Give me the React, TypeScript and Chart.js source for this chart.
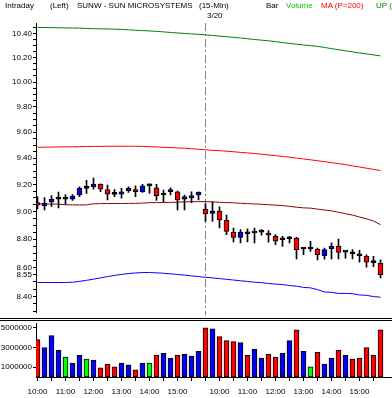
import React, { useEffect, useRef } from 'react';
import { Chart, registerables } from 'chart.js';

Chart.register(...registerables);

// ---- data ----
const opens = [9.066, 9.044, 9.070, 9.092, 9.092, 9.092, 9.122, 9.171, 9.183, 9.202, 9.163, 9.127, 9.129, 9.154, 9.163, 9.146, 9.190, 9.176, 9.122, 9.146, 9.146, 9.092, 9.102, 9.122,
  9.018, 8.987, 9.004, 8.935, 8.851, 8.813, 8.839, 8.844, 8.851, 8.844, 8.821, 8.796, 8.803, 8.808, 8.730, 8.730, 8.730, 8.682, 8.732, 8.749, 8.708, 8.696, 8.682, 8.677, 8.634, 8.629];
const highs = [9.110, 9.102, 9.117, 9.144, 9.125, 9.125, 9.183, 9.232, 9.249, 9.205, 9.195, 9.163, 9.171, 9.183, 9.190, 9.202, 9.205, 9.202, 9.158, 9.176, 9.151, 9.122, 9.146, 9.146,
  9.059, 9.071, 9.035, 8.975, 8.880, 8.868, 8.875, 8.880, 8.868, 8.861, 8.832, 8.821, 8.821, 8.813, 8.737, 8.785, 8.737, 8.737, 8.773, 8.801, 8.713, 8.725, 8.720, 8.689, 8.677, 8.653];
const lows = [9.019, 9.012, 9.037, 9.027, 9.054, 9.081, 9.110, 9.134, 9.165, 9.146, 9.085, 9.110, 9.098, 9.142, 9.110, 9.142, 9.134, 9.081, 9.073, 9.122, 9.012, 9.012, 9.066, 9.085,
  8.928, 8.928, 8.880, 8.832, 8.780, 8.773, 8.780, 8.773, 8.828, 8.778, 8.760, 8.749, 8.773, 8.660, 8.689, 8.713, 8.653, 8.658, 8.660, 8.660, 8.665, 8.660, 8.637, 8.601, 8.606, 8.527];
const closes = [9.046, 9.063, 9.090, 9.092, 9.092, 9.114, 9.171, 9.171, 9.202, 9.165, 9.129, 9.127, 9.146, 9.171, 9.146, 9.190, 9.190, 9.117, 9.122, 9.163, 9.085, 9.110, 9.117, 9.142,
  8.982, 9.004, 8.939, 8.856, 8.813, 8.851, 8.839, 8.844, 8.851, 8.828, 8.785, 8.796, 8.803, 8.725, 8.730, 8.730, 8.689, 8.725, 8.749, 8.706, 8.708, 8.696, 8.682, 8.637, 8.634, 8.550];
const volumes = [3810000, 3010000, 4210000, 2720000, 2020000, 1420000, 2220000, 1820000, 1720000, 930000, 1320000, 1030000, 1420000, 1230000, 730000, 1420000, 1420000, 2220000, 2420000, 1920000, 2220000, 2320000, 2120000, 2620000,
  5000000, 4900000, 4110000, 3710000, 3610000, 3510000, 2220000, 2810000, 1920000, 2320000, 2020000, 2420000, 3710000, 4800000, 2620000, 1030000, 2520000, 1320000, 1920000, 2720000, 2220000, 1820000, 1920000, 3010000, 2220000, 4800000];
const upBand = [10.455, 10.454, 10.453, 10.452, 10.451, 10.450, 10.449, 10.446, 10.444, 10.443, 10.442, 10.440, 10.438, 10.435, 10.431, 10.428, 10.425, 10.421, 10.417, 10.412,
  10.408, 10.404, 10.400, 10.396, 10.392, 10.387, 10.381, 10.376, 10.371, 10.365, 10.359, 10.353, 10.347, 10.342, 10.335, 10.327, 10.320, 10.313, 10.307, 10.301,
  10.295, 10.286, 10.276, 10.267, 10.258, 10.249, 10.240, 10.232, 10.224, 10.215];
const maUpper = [9.483, 9.484, 9.485, 9.486, 9.487, 9.487, 9.488, 9.489, 9.490, 9.490, 9.491, 9.491, 9.491, 9.491, 9.491, 9.490, 9.488, 9.486, 9.483, 9.481,
  9.478, 9.476, 9.472, 9.468, 9.464, 9.460, 9.457, 9.453, 9.449, 9.444, 9.440, 9.435, 9.430, 9.424, 9.419, 9.413, 9.407, 9.400, 9.394, 9.387,
  9.380, 9.373, 9.365, 9.358, 9.350, 9.341, 9.332, 9.323, 9.314, 9.305];
const ma200 = [9.056, 9.056, 9.055, 9.054, 9.050, 9.049, 9.048, 9.049, 9.057, 9.058, 9.059, 9.059, 9.059, 9.060, 9.060, 9.062, 9.065, 9.066, 9.066, 9.067,
  9.069, 9.071, 9.072, 9.073, 9.073, 9.071, 9.068, 9.066, 9.064, 9.061, 9.058, 9.056, 9.053, 9.050, 9.047, 9.044, 9.038, 9.032, 9.027, 9.025,
  9.018, 9.011, 9.005, 8.995, 8.984, 8.974, 8.960, 8.947, 8.931, 8.904];
const lowBand = [8.495, 8.495, 8.495, 8.495, 8.495, 8.497, 8.503, 8.510, 8.518, 8.527, 8.536, 8.544, 8.551, 8.557, 8.561, 8.564, 8.564, 8.562, 8.559, 8.555,
  8.551, 8.546, 8.541, 8.536, 8.531, 8.527, 8.522, 8.517, 8.512, 8.507, 8.502, 8.497, 8.494, 8.488, 8.484, 8.481, 8.474, 8.470, 8.461, 8.458,
  8.446, 8.430, 8.427, 8.420, 8.420, 8.418, 8.409, 8.407, 8.398, 8.394];

const priceLabelValues = [10.4, 10.2, 10.0, 9.8, 9.6, 9.4, 9.2, 9.0, 8.8, 8.6, 8.55, 8.4];
const priceLabelTexts = ['10.40', '10.20', '10.00', '9.80', '9.60', '9.40', '9.20', '9.00', '8.80', '8.60', '8.55', '8.40'];
const volumeTickValues = [1000000, 3000000, 5000000];
const volumeTickTexts = ['1000000', '3000000', '5000000'];
const timeTickIndex = [0, 4, 8, 12, 16, 20, 26, 30, 34, 38, 42, 46];
const timeTickTexts = ['10:00', '11:00', '12:00', '13:00', '14:00', '15:00', '10:00', '11:00', '12:00', '13:00', '14:00', '15:00'];
const dayBreakIndex = 24;
const dayBreakLabel = '3/20';

const FONT_FAMILY = '"Liberation Sans", Arial, sans-serif';

export default function App() {
  const priceRef = useRef<HTMLCanvasElement>(null);
  const volRef = useRef<HTMLCanvasElement>(null);

  useEffect(() => {
    const idx = opens.map((_, i) => i);
    const xMin = -0.2143;
    const xMax = 50.643;
    const font = { family: FONT_FAMILY, size: 8 };

    const bodyColors = idx.map((i) =>
      closes[i] > opens[i] ? '#0000FF' : closes[i] < opens[i] ? '#FF0000' : '#000000'
    );
    const volColors = idx.map((i) => {
      const ref = i === 0 ? opens[0] : closes[i - 1];
      return closes[i] > ref ? '#0000FF' : closes[i] < ref ? '#FF0000' : '#00FF00';
    });

    // minor tick positions on the price axis
    const priceTicks: number[] = [];
    for (let k = 166; k <= 209; k++) priceTicks.push(k * 0.05);

    const dayLine = {
      id: 'dayLine',
      beforeDatasetsDraw(chart: any) {
        const { ctx, chartArea, scales } = chart;
        const x = Math.round(scales.x.getPixelForValue(dayBreakIndex)) + 0.5;
        ctx.save();
        ctx.strokeStyle = '#808080';
        ctx.lineWidth = 1;
        ctx.setLineDash([8, 3, 2, 3]);
        ctx.beginPath();
        ctx.moveTo(x, chartArea.top);
        ctx.lineTo(x, chartArea.bottom + 3);
        ctx.stroke();
        ctx.restore();
      },
    };

    const lineDs = (label: string, arr: number[], color: string) => ({
      type: 'line' as const,
      label,
      data: arr.map((v, i) => ({ x: i, y: v })),
      borderColor: color,
      borderWidth: 1,
      pointRadius: 0,
      tension: 0,
      order: 3,
    });

    const priceChart = new Chart(priceRef.current as HTMLCanvasElement, {
      type: 'bar',
      data: {
        datasets: [
          lineDs('UP', upBand, '#008000'),
          lineDs('MA upper', maUpper, '#FF0000'),
          lineDs('MA (P=200)', ma200, '#8B0000'),
          lineDs('DOWN', lowBand, '#0000FF'),
          {
            type: 'bar',
            label: 'Wick',
            data: idx.map((i) => ({ x: i, y: [lows[i], highs[i]] })) as any,
            backgroundColor: '#000000',
            borderWidth: 0,
            barThickness: 1,
            grouped: false,
            order: 2,
          },
          {
            type: 'bar',
            label: 'Bar',
            data: idx.map((i) => ({ x: i, y: [opens[i], closes[i]] })) as any,
            backgroundColor: bodyColors,
            borderColor: '#000000',
            borderWidth: 1,
            borderSkipped: false,
            barThickness: 5,
            minBarLength: 2,
            grouped: false,
            order: 1,
          },
        ] as any,
      },
      options: {
        responsive: false,
        animation: false,
        devicePixelRatio: 1,
        layout: { padding: { top: 23, bottom: 3, left: 0, right: 0 } },
        plugins: { legend: { display: false }, tooltip: { enabled: false } },
        scales: {
          x: { type: 'linear', display: false, min: xMin, max: xMax, offset: false },
          y: {
            type: 'logarithmic',
            position: 'left',
            min: 8.2921,
            max: 10.4926,
            afterFit: (s: any) => { s.width = 36; },
            afterBuildTicks: (s: any) => { s.ticks = priceTicks.map((v) => ({ value: v })); },
            ticks: {
              autoSkip: false,
              color: '#000000',
              font,
              padding: 1,
              callback: (v: any) => {
                const k = priceLabelValues.findIndex((p) => Math.abs(p - Number(v)) < 1e-6);
                return k >= 0 ? priceLabelTexts[k] : '';
              },
            },
            grid: { drawOnChartArea: false, drawTicks: true, tickLength: 3, color: '#000000', tickColor: '#000000' },
            border: { display: true, color: '#000000', width: 1 },
          },
        } as any,
      },
      plugins: [dayLine],
    });

    const separator = {
      id: 'separator',
      afterDraw(chart: any) {
        const { ctx, width } = chart;
        ctx.save();
        ctx.strokeStyle = '#000000';
        ctx.lineWidth = 1;
        ctx.beginPath();
        ctx.moveTo(0, 0.5); ctx.lineTo(width, 0.5);
        ctx.moveTo(0, 2.5); ctx.lineTo(width, 2.5);
        ctx.stroke();
        ctx.restore();
      },
    };

    const volChart = new Chart(volRef.current as HTMLCanvasElement, {
      type: 'bar',
      data: {
        datasets: [
          {
            label: 'Volume',
            data: idx.map((i) => ({ x: i, y: volumes[i] })) as any,
            backgroundColor: volColors,
            borderColor: '#000000',
            borderWidth: 1,
            borderSkipped: false,
            barThickness: 5,
          },
        ],
      },
      options: {
        responsive: false,
        animation: false,
        devicePixelRatio: 1,
        layout: { padding: { top: 4, bottom: 0, left: 0, right: 0 } },
        plugins: { legend: { display: false }, tooltip: { enabled: false } },
        scales: {
          x: {
            type: 'linear',
            min: xMin,
            max: xMax,
            offset: false,
            afterFit: (s: any) => { s.height = 21; },
            afterBuildTicks: (s: any) => {
              const t: any[] = [];
              for (let i = 0; i < opens.length; i += 2) t.push({ value: i });
              s.ticks = t;
            },
            ticks: {
              autoSkip: false,
              maxRotation: 0,
              minRotation: 0,
              color: '#000000',
              font,
              padding: 6,
              callback: (v: any) => {
                const k = timeTickIndex.indexOf(Math.round(Number(v)));
                return k >= 0 ? timeTickTexts[k] : '';
              },
            },
            grid: { drawOnChartArea: false, drawTicks: true, tickLength: 4, color: '#000000', tickColor: '#000000', offset: false },
            border: { display: true, color: '#000000', width: 1 },
          },
          y: {
            type: 'linear',
            position: 'left',
            min: 0,
            max: 5420000,
            afterFit: (s: any) => { s.width = 36; },
            afterBuildTicks: (s: any) => { s.ticks = volumeTickValues.map((v) => ({ value: v })); },
            ticks: {
              autoSkip: false,
              color: '#000000',
              font,
              padding: 1,
              callback: (v: any) => {
                const k = volumeTickValues.indexOf(Number(v));
                return k >= 0 ? volumeTickTexts[k] : '';
              },
            },
            grid: { drawOnChartArea: false, drawTicks: true, tickLength: 3, color: '#000000', tickColor: '#000000' },
            border: { display: true, color: '#000000', width: 1 },
          },
        } as any,
      },
      plugins: [separator],
    });

    return () => {
      priceChart.destroy();
      volChart.destroy();
    };
  }, []);

  const txt = (left: number, top: number, color = '#000000'): React.CSSProperties => ({
    position: 'absolute',
    left,
    top,
    color,
    fontFamily: FONT_FAMILY,
    fontSize: '8px',
    lineHeight: '8px',
    whiteSpace: 'nowrap',
  });

  return (
    <div style={{ position: 'absolute', left: 0, top: 0, width: 392, height: 398, overflow: 'hidden', background: '#ffffff' }}>
      <div style={{ position: 'absolute', left: 0, top: 0, width: 392, height: 318 }}>
        <canvas ref={priceRef} width={392} height={318} style={{ display: 'block', width: 392, height: 318 }} />
      </div>
      <div style={{ position: 'absolute', left: 0, top: 318, width: 392, height: 80 }}>
        <canvas ref={volRef} width={392} height={80} style={{ display: 'block', width: 392, height: 80 }} />
      </div>
      <span style={txt(5, 2)}>Intraday</span>
      <span style={txt(50, 2)}>(Left)</span>
      <span style={txt(77, 2)}>SUNW - SUN MICROSYSTEMS</span>
      <span style={txt(199, 2)}>(15-Min)</span>
      <span style={txt(207, 12)}>{dayBreakLabel}</span>
      <span style={txt(266, 2)}>Bar</span>
      <span style={txt(286, 2, '#00CC00')}>Volume</span>
      <span style={txt(321, 2, '#FF0000')}>MA (P=200)</span>
      <span style={txt(376, 2, '#008000')}>UP (</span>
    </div>
  );
}
